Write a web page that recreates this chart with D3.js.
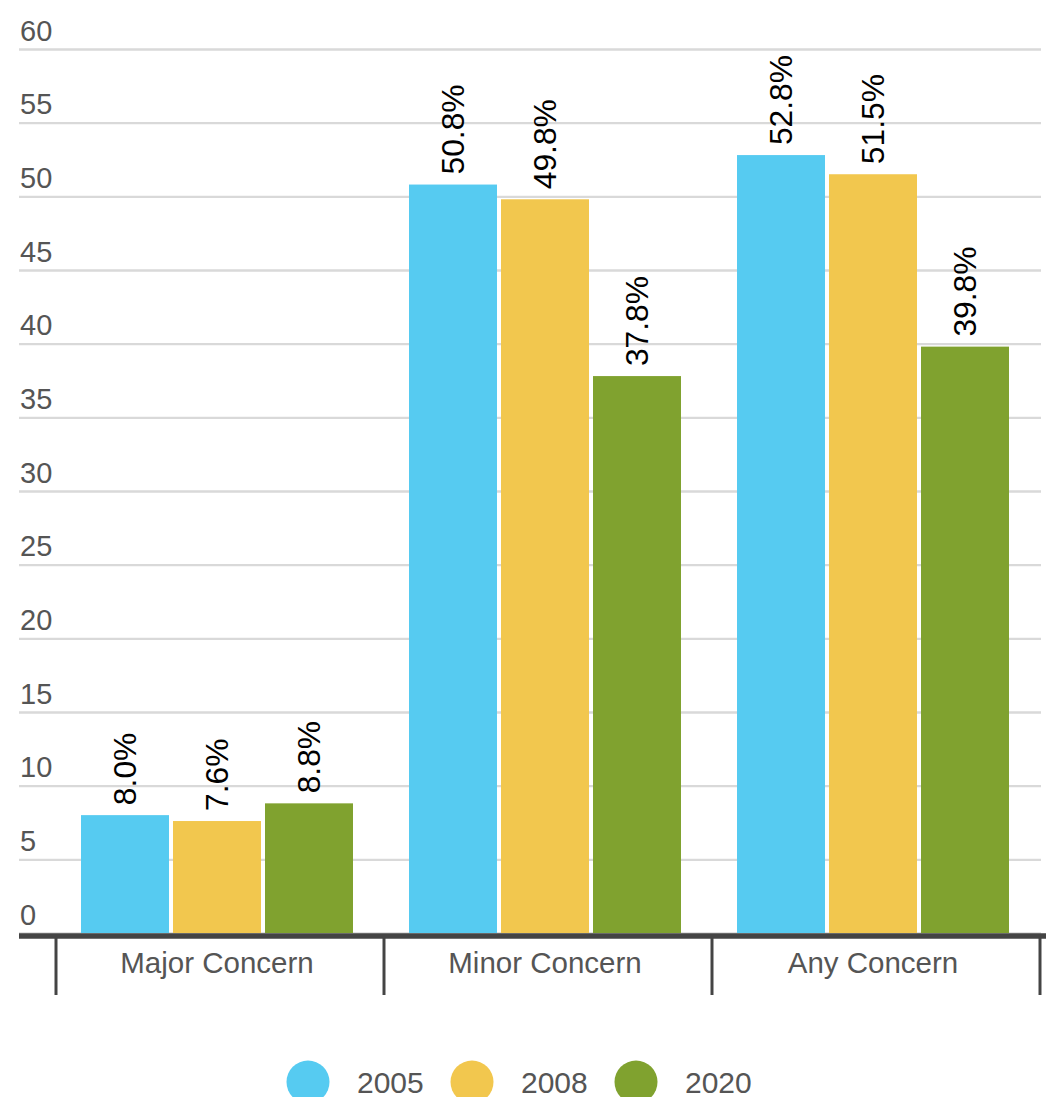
<!DOCTYPE html>
<html>
<head>
<meta charset="utf-8">
<script src="https://cdn.jsdelivr.net/npm/d3@7"></script>
<style>
  html, body { margin: 0; padding: 0; background: #fff; }
  svg { display: block; font-family: "Liberation Sans", Arial, Helvetica, sans-serif; }
</style>
</head>
<body>
<svg id="chart" width="1063" height="1097"></svg>
<script>
const categories = ["Major Concern", "Minor Concern", "Any Concern"];
const years = ["2005", "2008", "2020"];
const values2005 = [8.0, 50.8, 52.8];
const values2008 = [7.6, 49.8, 51.5];
const values2020 = [8.8, 37.8, 39.8];
const yTicks = [0, 5, 10, 15, 20, 25, 30, 35, 40, 45, 50, 55, 60];
const colors = ["#56CBF1", "#F2C74E", "#80A22F"];

const seriesValues = [values2005, values2008, values2020];
const data = categories.map((c, i) => ({
  category: c,
  values: years.map((y, j) => ({ year: y, value: seriesValues[j][i], color: colors[j] }))
}));

const svg = d3.select("#chart");

const y = d3.scaleLinear().domain([0, 60]).range([933, 49]);
const x0 = d3.scaleBand().domain(categories).range([55, 1039]).paddingInner(0).paddingOuter(0);
const x1 = d3.scaleBand().domain(years).range([26, 298]).paddingInner(4 / 92).paddingOuter(0);
const color = d3.scaleOrdinal().domain(years).range(colors);

// gridlines + tick labels
const grid = svg.append("g");
grid.selectAll("line").data(yTicks).join("line")
  .attr("x1", 19).attr("x2", 1041)
  .attr("y1", d => y(d) + 0.5).attr("y2", d => y(d) + 0.5)
  .attr("stroke", "#d9d9d9").attr("stroke-width", 2.4);
grid.selectAll("text").data(yTicks).join("text")
  .attr("x", 20).attr("y", d => y(d) - 8.5)
  .attr("fill", "#555").attr("font-size", 29)
  .text(d => d);

// bars
const groups = svg.append("g").selectAll("g").data(data).join("g")
  .attr("transform", d => `translate(${x0(d.category)},0)`);

groups.selectAll("rect").data(d => d.values).join("rect")
  .attr("x", d => x1(d.year))
  .attr("width", x1.bandwidth())
  .attr("y", d => y(d.value))
  .attr("height", d => y(0) - y(d.value))
  .attr("fill", d => color(d.year));

groups.selectAll("text").data(d => d.values).join("text")
  .attr("transform", d => `translate(${x1(d.year) + x1.bandwidth() / 2},${y(d.value) - 10}) rotate(-90)`)
  .attr("dy", "0.35em")
  .attr("text-anchor", "start")
  .attr("font-size", 31.8)
  .attr("fill", "#000")
  .text(d => d.value.toFixed(1) + "%");

// x axis baseline
svg.append("line")
  .attr("x1", 19).attr("x2", 1046)
  .attr("y1", 936).attr("y2", 936)
  .attr("stroke", "#444").attr("stroke-width", 5.5);

const edges = categories.map(c => x0(c)).concat([x0.range()[1]]);
svg.append("g").selectAll("line").data(edges).join("line")
  .attr("x1", d => d + 1).attr("x2", d => d + 1)
  .attr("y1", 938).attr("y2", 995)
  .attr("stroke", "#444").attr("stroke-width", 3);

svg.append("g").selectAll("text").data(categories).join("text")
  .attr("x", d => x0(d) + x0.bandwidth() / 2 - 2)
  .attr("y", 973)
  .attr("text-anchor", "middle")
  .attr("font-size", 29.5)
  .attr("fill", "#555")
  .text(d => d);

// legend
const legend = svg.append("g").selectAll("g").data(years).join("g")
  .attr("transform", (d, i) => `translate(${308 + i * 164},1082)`);
legend.append("circle").attr("r", 21.5).attr("fill", d => color(d));
legend.append("text")
  .attr("x", 49).attr("y", 11)
  .attr("font-size", 30)
  .attr("fill", "#555")
  .text(d => d);
</script>
</body>
</html>
